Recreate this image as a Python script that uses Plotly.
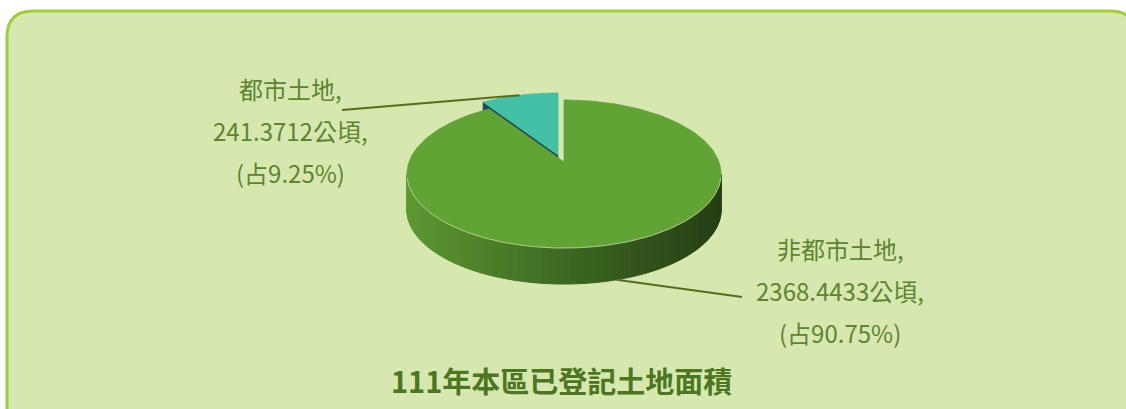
import numpy as np
import plotly.graph_objects as go

# Land area by category (hectares)
categories = ["都市土地", "非都市土地"]
areas = [241.3712, 2368.4433]
title_text = "111年本區已登記土地面積"
unit = "公頃"

W, H = 1126, 409

# Pie geometry in pixel space (axes are mapped 1:1 to pixels).
# A tilted disc seen in perspective: the back half is compressed.
cxp, cyp = 564.0, 162.0      # projected centre of the top face
Rx, Ry = 155.0, 72.1         # projected radii before perspective division
persp = 0.162                # strength of the perspective foreshortening
depth = 36.0                 # thickness of the disc
explode = (-6.0, -7.0)       # offset of the pulled-out slice

total = sum(areas)
fracs = [a / total for a in areas]

# Slice angles, clockwise from 12 o'clock: first slice sits just left of 12 o'clock
urban_span = 360.0 * fracs[0]
rural_span = 360.0 * fracs[1]
urban_start, urban_end = -urban_span, 0.0
rural_start, rural_end = 0.0, rural_span


def arc(t0, t1, n=120, dy=0.0, off=(0.0, 0.0)):
    th = np.radians(np.linspace(t0, t1, n))
    u, v = np.sin(th), np.cos(th)
    w = 1.0 + persp * v
    x = cxp + Rx * u / w + off[0]
    y = cyp - Ry * v / w + dy + off[1]
    return x, y


def rgb_mix(c0, c1, t):
    return tuple(int(round(a + (b - a) * t)) for a, b in zip(c0, c1))


fig = go.Figure()


def poly(xs, ys, color, lw=0.6, lcolor=None):
    fig.add_trace(go.Scatter(
        x=list(xs) + [xs[0]], y=list(ys) + [ys[0]], mode="lines",
        fill="toself", fillcolor=color,
        line=dict(color=lcolor or color, width=lw),
        hoverinfo="skip", showlegend=False))


# --- exploded urban slice (behind) ---
ax_u, ay_u = cxp + explode[0], cyp + explode[1]
ux, uy = arc(urban_start, urban_end, 40, off=explode)
# radial side face on the left edge of the slice
lx, ly = ux[0], uy[0]
poly([ax_u, lx, lx, ax_u], [ay_u, ly, ly + depth, ay_u + depth], "#1d4a57")
# top face
poly([ax_u] + list(ux), [ay_u] + list(uy), "#43c0a5", lw=0.8)

# --- rural slice: visible outer side with shading ---
edge = np.degrees(np.arccos(-persp))          # silhouette angle of the disc
c_left, c_mid, c_right = (92, 152, 50), (62, 104, 34), (36, 62, 20)
side_t = np.linspace(edge, 360.0 - edge, 91)
xl, xr = cxp - Rx / np.sqrt(1 - persp ** 2), cxp + Rx / np.sqrt(1 - persp ** 2)
for t0, t1 in zip(side_t[:-1], side_t[1:]):
    x0, y0 = arc(t0, t1, 4)
    xb, yb = arc(t1, t0, 4, dy=depth)
    xm = 0.5 * (x0[0] + x0[-1])
    t = (xm - xl) / (xr - xl)
    if t < 0.5:
        col = rgb_mix(c_left, c_mid, t / 0.5)
    else:
        col = rgb_mix(c_mid, c_right, (t - 0.5) / 0.5)
    col = "rgb(%d,%d,%d)" % col
    poly(list(x0) + list(xb), list(y0) + list(yb), col, lw=1.0)

# top face of the rural slice
gx, gy = arc(rural_start, rural_end, 240)
poly([cxp] + list(gx), [cyp] + list(gy), "#62a336", lw=0.8)

# light rim where the top face meets the side
fx, fy = arc(edge + 3, 360 - edge - 3, 120)
fig.add_trace(go.Scatter(x=fx, y=fy, mode="lines",
                         line=dict(color="rgba(200,225,170,0.7)", width=1),
                         hoverinfo="skip", showlegend=False))

# --- leader lines ---
lead_color = "#586d1c"
mu = 0.5 * (urban_start + urban_end)
mxu, myu = arc(mu, mu, 1, off=explode)
fig.add_trace(go.Scatter(x=[mxu[0], 342], y=[myu[0], 110], mode="lines",
                         line=dict(color=lead_color, width=2),
                         hoverinfo="skip", showlegend=False))
mr = 0.5 * (rural_start + rural_end)
mxr, myr = arc(mr, mr, 1, dy=depth)
fig.add_trace(go.Scatter(x=[mxr[0], 742], y=[myr[0], 297], mode="lines",
                         line=dict(color=lead_color, width=2),
                         hoverinfo="skip", showlegend=False))

# --- data labels ---
label_color = "#5e8430"
label_font = dict(family="Noto Sans CJK TC", size=24, color=label_color)
label_pos = [(290, 88), (840, 248)]
for cat, area, frac, (lxp, lyp) in zip(categories, areas, fracs, label_pos):
    lines = [f"{cat},", f"{area:.4f}{unit},", f"(占{frac * 100:.2f}%)"]
    for i, txt in enumerate(lines):
        fig.add_annotation(x=lxp, y=lyp + 42 * i, xref="x", yref="y",
                           text=txt, showarrow=False, font=label_font,
                           xanchor="center", yanchor="middle")

# chart title
fig.add_annotation(x=561, y=380, xref="x", yref="y", text=f"<b>{title_text}</b>",
                   showarrow=False, xanchor="center", yanchor="middle",
                   font=dict(family="Noto Sans CJK TC", size=29, color="#4d7621"))

# rounded card behind the chart
x0c, y0c, x1c, y1c, r = 7, 11, 1136, 460, 26
card = (f"M {x0c + r},{y0c} L {x1c - r},{y0c} Q {x1c},{y0c} {x1c},{y0c + r} "
        f"L {x1c},{y1c} L {x0c},{y1c} L {x0c},{y0c + r} Q {x0c},{y0c} {x0c + r},{y0c} Z")
fig.add_shape(type="path", path=card, xref="x", yref="y", layer="below",
              fillcolor="#d6e8af", line=dict(color="#9fcd3e", width=3))

fig.update_xaxes(range=[0, W], visible=False, fixedrange=True)
fig.update_yaxes(range=[H, 0], visible=False, fixedrange=True)
fig.update_layout(width=W, height=H, margin=dict(l=0, r=0, t=0, b=0),
                  paper_bgcolor="white", plot_bgcolor="white",
                  showlegend=False)

fig.write_html("out.html", config={"displayModeBar": False})
